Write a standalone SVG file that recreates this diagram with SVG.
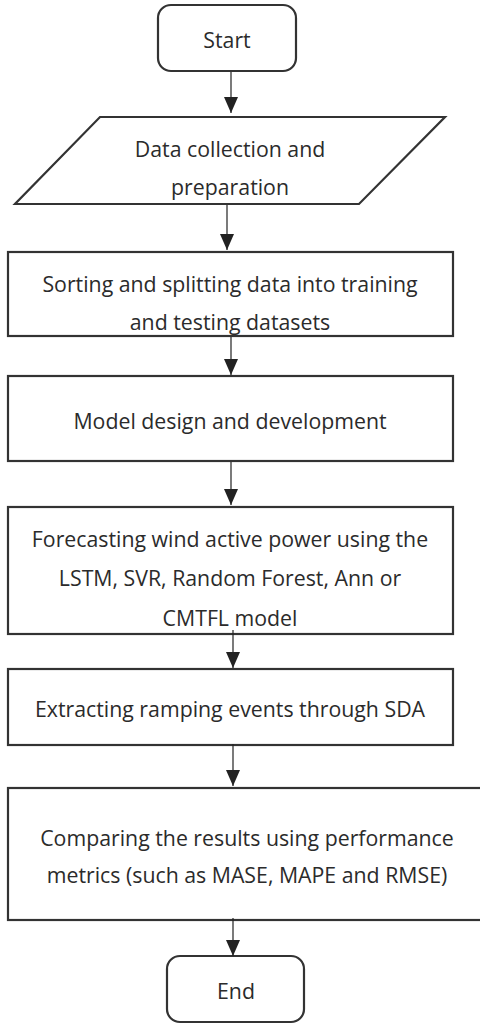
<svg xmlns="http://www.w3.org/2000/svg" width="480" height="1025" viewBox="0 0 480 1025">
<defs>
<marker id="ah" markerWidth="16" markerHeight="14" refX="16" refY="7" orient="auto" markerUnits="userSpaceOnUse" viewBox="0 0 16 14">
<path d="M0,0 L16,7 L0,14 Z" fill="#222"/>
</marker>
<style>
.box{fill:#fff;stroke:#333;stroke-width:2.2}
.t{font-family:"Open Sans","Liberation Sans",sans-serif;font-size:21.3px;fill:#2b2b2b;text-anchor:middle;dominant-baseline:central}
.c{stroke:#222;stroke-width:1.2;fill:none}
</style>
</defs>
<rect width="480" height="1025" fill="#fff"/>
<g id="start">
<rect class="box" x="158" y="5" width="138" height="66" rx="13"/>
<text class="t" x="227" y="39">Start</text>
</g>
<g id="data">
<polygon class="box" points="100,117 445,117 359,204 15,204"/>
<text class="t" x="230" y="148">Data collection and</text>
<text class="t" x="230" y="186">preparation</text>
</g>
<g id="sorting">
<rect class="box" x="8" y="252" width="445" height="84"/>
<text class="t" x="230" y="283">Sorting and splitting data into training</text>
<text class="t" x="230" y="321">and testing datasets</text>
</g>
<g id="model">
<rect class="box" x="8" y="376" width="445" height="85"/>
<text class="t" x="230" y="420">Model design and development</text>
</g>
<g id="forecast">
<rect class="box" x="8" y="507" width="445" height="127"/>
<text class="t" x="230" y="538">Forecasting wind active power using the</text>
<text class="t" x="230" y="577">LSTM, SVR, Random Forest, Ann or</text>
<text class="t" x="230" y="617">CMTFL model</text>
</g>
<g id="extract">
<rect class="box" x="8" y="669" width="445" height="76"/>
<text class="t" x="230" y="708">Extracting ramping events through SDA</text>
</g>
<g id="compare">
<rect class="box" x="8" y="788" width="480" height="132"/>
<text class="t" x="247" y="837">Comparing the results using performance</text>
<text class="t" x="247" y="874">metrics (such as MASE, MAPE and RMSE)</text>
</g>
<g id="end">
<rect class="box" x="167" y="956" width="137" height="66" rx="13"/>
<text class="t" x="236" y="990">End</text>
</g>
<g id="connectors">
<line class="c" x1="231" y1="72" x2="231" y2="113" marker-end="url(#ah)"/>
<line class="c" x1="227" y1="205" x2="227" y2="250" marker-end="url(#ah)"/>
<line class="c" x1="231" y1="337" x2="231" y2="375" marker-end="url(#ah)"/>
<line class="c" x1="231" y1="462" x2="231" y2="505" marker-end="url(#ah)"/>
<line class="c" x1="233" y1="630" x2="233" y2="668" marker-end="url(#ah)"/>
<line class="c" x1="233" y1="744" x2="233" y2="786" marker-end="url(#ah)"/>
<line class="c" x1="233" y1="918" x2="233" y2="956" marker-end="url(#ah)"/>
</g>
</svg>
